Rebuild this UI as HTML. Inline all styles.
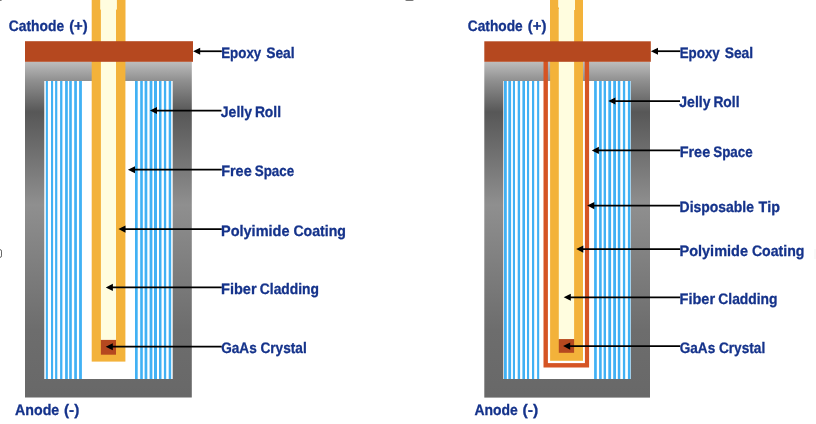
<!DOCTYPE html>
<html><head><meta charset="utf-8"><style>
html,body{margin:0;padding:0;background:#fff;}
body{width:816px;height:424px;overflow:hidden;}
svg{display:block;}
.txt{filter:grayscale(0);}
text{font-family:"Liberation Sans",sans-serif;font-weight:bold;text-rendering:geometricPrecision;font-kerning:none;stroke-width:0.3;stroke:#15338b;fill:#15338b;}
</style></head><body>
<svg width="816" height="424" viewBox="0 0 816 424">
<defs>
<linearGradient id="gray" gradientUnits="objectBoundingBox" x1="0" y1="0" x2="0" y2="1">
<stop offset="0" stop-color="#bdbdbd"/>
<stop offset="0.057" stop-color="#8f8f8f"/>
<stop offset="0.15" stop-color="#575757"/>
<stop offset="0.426" stop-color="#8f8f8f"/>
<stop offset="0.8" stop-color="#6d6d6d"/>
<stop offset="1" stop-color="#686868"/>
</linearGradient>
</defs>
<rect width="816" height="424" fill="#fff"/>

<rect x="91.7" y="0" width="33.8" height="41.5" fill="#f3b23a"/>
<rect x="100.2" y="0" width="16.7" height="9.6" fill="#fffddf"/>
<rect x="100.9" y="9" width="15.1" height="33" fill="#fffddf"/>
<rect x="25" y="61.7" width="166.8" height="335.8" fill="url(#gray)"/>
<rect x="44.3" y="81" width="128.4" height="298" fill="#fff"/>
<rect x="45.8" y="81" width="2.1" height="298" fill="#41b1f4"/>
<rect x="51" y="81" width="2.1" height="298" fill="#41b1f4"/>
<rect x="55.1" y="81" width="2.2" height="298" fill="#41b1f4"/>
<rect x="60.1" y="81" width="2.3" height="298" fill="#41b1f4"/>
<rect x="65.1" y="81" width="2.7" height="298" fill="#41b1f4"/>
<rect x="69.2" y="81" width="2.6" height="298" fill="#41b1f4"/>
<rect x="74.2" y="81" width="2.7" height="298" fill="#41b1f4"/>
<rect x="79.1" y="81" width="2.8" height="298" fill="#41b1f4"/>
<rect x="135" y="81" width="2.7" height="298" fill="#41b1f4"/>
<rect x="140.2" y="81" width="2.6" height="298" fill="#41b1f4"/>
<rect x="144.6" y="81" width="2.7" height="298" fill="#41b1f4"/>
<rect x="149.6" y="81" width="2.8" height="298" fill="#41b1f4"/>
<rect x="154" y="81" width="3" height="298" fill="#41b1f4"/>
<rect x="159" y="81" width="2.5" height="298" fill="#41b1f4"/>
<rect x="163.9" y="81" width="2.3" height="298" fill="#41b1f4"/>
<rect x="168.7" y="81" width="2.5" height="298" fill="#41b1f4"/>
<rect x="91.7" y="41" width="33.7" height="320.6" fill="#f3b23a"/>
<rect x="100.9" y="41" width="15.1" height="299" fill="#fffddf"/>
<rect x="100.9" y="339.9" width="15.1" height="14.8" fill="#b5481f"/>
<rect x="25" y="41.2" width="168" height="20.6" fill="#b5481f"/>
<rect x="550" y="0" width="33" height="41.5" fill="#f3b23a"/>
<rect x="558.2" y="0" width="1" height="7.5" fill="#fffddf"/>
<rect x="559" y="0" width="16" height="10" fill="#fffddf"/>
<rect x="558.7" y="9" width="15.4" height="33" fill="#fffddf"/>
<rect x="484.3" y="61.8" width="165.7" height="335.8" fill="url(#gray)"/>
<rect x="503.3" y="81" width="127.5" height="298" fill="#fff"/>
<rect x="504" y="81" width="2.8" height="298" fill="#41b1f4"/>
<rect x="508.3" y="81" width="2.8" height="298" fill="#41b1f4"/>
<rect x="512.9" y="81" width="2.1" height="298" fill="#41b1f4"/>
<rect x="517.7" y="81" width="2.4" height="298" fill="#41b1f4"/>
<rect x="522.4" y="81" width="2.6" height="298" fill="#41b1f4"/>
<rect x="527" y="81" width="2.1" height="298" fill="#41b1f4"/>
<rect x="532" y="81" width="2.2" height="298" fill="#41b1f4"/>
<rect x="537.1" y="81" width="2.1" height="298" fill="#41b1f4"/>
<rect x="594.1" y="81" width="2.7" height="298" fill="#41b1f4"/>
<rect x="599.1" y="81" width="2.6" height="298" fill="#41b1f4"/>
<rect x="603.6" y="81" width="2.4" height="298" fill="#41b1f4"/>
<rect x="608.3" y="81" width="2.8" height="298" fill="#41b1f4"/>
<rect x="613.2" y="81" width="2.8" height="298" fill="#41b1f4"/>
<rect x="617.8" y="81" width="2.5" height="298" fill="#41b1f4"/>
<rect x="622.9" y="81" width="2.3" height="298" fill="#41b1f4"/>
<rect x="627.9" y="81" width="2.5" height="298" fill="#41b1f4"/>
<path d="M545.7 50 V365.2 H586.9 V50" fill="none" stroke="#d55424" stroke-width="4.4"/>
<rect x="548" y="81" width="36.7" height="282.1" fill="#fff"/>
<rect x="550.1" y="41" width="32.9" height="319.8" fill="#f3b23a"/>
<rect x="558.8" y="41" width="15.3" height="298.5" fill="#fffddf"/>
<rect x="558.8" y="339.1" width="15.3" height="13.7" fill="#b5481f"/>
<rect x="484.3" y="41.3" width="166.5" height="20.5" fill="#b5481f"/>
<line x1="198.1" y1="51.25" x2="221.8" y2="51.25" stroke="#000" stroke-width="1.75"/><path d="M193.1 51.25 L200.2 47.7 L200.2 54.8 Z" fill="#000"/>
<line x1="154.9" y1="110.5" x2="221.5" y2="110.5" stroke="#000" stroke-width="1.75"/><path d="M149.9 110.5 L157.0 106.95 L157.0 114.05 Z" fill="#000"/>
<line x1="132.9" y1="169.7" x2="221.8" y2="169.7" stroke="#000" stroke-width="1.75"/><path d="M127.9 169.7 L135.0 166.14999999999998 L135.0 173.25 Z" fill="#000"/>
<line x1="123.4" y1="229.1" x2="221.8" y2="229.1" stroke="#000" stroke-width="1.75"/><path d="M118.4 229.1 L125.5 225.54999999999998 L125.5 232.65 Z" fill="#000"/>
<line x1="110.8" y1="287.4" x2="221.8" y2="287.4" stroke="#000" stroke-width="1.75"/><path d="M105.8 287.4 L112.89999999999999 283.84999999999997 L112.89999999999999 290.95 Z" fill="#000"/>
<line x1="110.7" y1="346.7" x2="221.8" y2="346.7" stroke="#000" stroke-width="1.75"/><path d="M105.7 346.7 L112.8 343.15 L112.8 350.25 Z" fill="#000"/>
<line x1="655.9" y1="51.2" x2="680.3" y2="51.2" stroke="#000" stroke-width="1.75"/><path d="M650.9 51.2 L658.0 47.650000000000006 L658.0 54.75 Z" fill="#000"/>
<line x1="613.3" y1="101.0" x2="680.0" y2="101.0" stroke="#000" stroke-width="1.75"/><path d="M608.3 101.0 L615.4 97.45 L615.4 104.55 Z" fill="#000"/>
<line x1="596.8" y1="150.4" x2="680.3" y2="150.4" stroke="#000" stroke-width="1.75"/><path d="M591.8 150.4 L598.9 146.85 L598.9 153.95000000000002 Z" fill="#000"/>
<line x1="592.2" y1="205.6" x2="680.3" y2="205.6" stroke="#000" stroke-width="1.75"/><path d="M587.2 205.6 L594.3000000000001 202.04999999999998 L594.3000000000001 209.15 Z" fill="#000"/>
<line x1="581.2" y1="249.1" x2="680.3" y2="249.1" stroke="#000" stroke-width="1.75"/><path d="M576.2 249.1 L583.3000000000001 245.54999999999998 L583.3000000000001 252.65 Z" fill="#000"/>
<line x1="568.7" y1="297.3" x2="680.3" y2="297.3" stroke="#000" stroke-width="1.75"/><path d="M563.7 297.3 L570.8000000000001 293.75 L570.8000000000001 300.85 Z" fill="#000"/>
<line x1="568.1" y1="346.1" x2="680.3" y2="346.1" stroke="#000" stroke-width="1.75"/><path d="M563.1 346.1 L570.2 342.55 L570.2 349.65000000000003 Z" fill="#000"/>
<g class="txt">
<text x="8.83" y="30.5" font-size="15.2" letter-spacing="0" textLength="55.24" lengthAdjust="spacingAndGlyphs">Cathode</text>
<text x="69.16" y="30.5" font-size="15.2" letter-spacing="0" textLength="18.58" lengthAdjust="spacingAndGlyphs">(+)</text>
<text x="15.05" y="414.6" font-size="15.2" letter-spacing="0" textLength="44.14" lengthAdjust="spacingAndGlyphs">Anode</text>
<text x="63.94" y="414.6" font-size="15.2" letter-spacing="0" textLength="15.33" lengthAdjust="spacingAndGlyphs">(-)</text>
<text x="467.84" y="30.5" font-size="15.2" letter-spacing="0" textLength="54.83" lengthAdjust="spacingAndGlyphs">Cathode</text>
<text x="527.86" y="30.5" font-size="15.2" letter-spacing="0" textLength="18.58" lengthAdjust="spacingAndGlyphs">(+)</text>
<text x="474.55" y="414.6" font-size="15.2" letter-spacing="0" textLength="43.32" lengthAdjust="spacingAndGlyphs">Anode</text>
<text x="522.61" y="414.6" font-size="15.2" letter-spacing="0" textLength="15.77" lengthAdjust="spacingAndGlyphs">(-)</text>
<text x="221.21" y="57.9" font-size="15.2" letter-spacing="0" textLength="40.06" lengthAdjust="spacingAndGlyphs">Epoxy</text>
<text x="266.20" y="57.9" font-size="15.2" letter-spacing="0" textLength="28.48" lengthAdjust="spacingAndGlyphs">Seal</text>
<text x="220.79" y="116.5" font-size="15.2" letter-spacing="0" textLength="31.19" lengthAdjust="spacingAndGlyphs">Jelly</text>
<text x="254.88" y="116.5" font-size="15.2" letter-spacing="0" textLength="26.10" lengthAdjust="spacingAndGlyphs">Roll</text>
<text x="221.13" y="175.6" font-size="15.2" letter-spacing="0" textLength="30.56" lengthAdjust="spacingAndGlyphs">Free</text>
<text x="254.71" y="175.6" font-size="15.2" letter-spacing="0" textLength="39.44" lengthAdjust="spacingAndGlyphs">Space</text>
<text x="221.03" y="235.6" font-size="15.2" letter-spacing="0" textLength="68.46" lengthAdjust="spacingAndGlyphs">Polyimide</text>
<text x="293.42" y="235.6" font-size="15.2" letter-spacing="0" textLength="52.52" lengthAdjust="spacingAndGlyphs">Coating</text>
<text x="221.03" y="293.6" font-size="15.2" letter-spacing="0" textLength="35.59" lengthAdjust="spacingAndGlyphs">Fiber</text>
<text x="259.83" y="293.6" font-size="15.2" letter-spacing="0" textLength="59.19" lengthAdjust="spacingAndGlyphs">Cladding</text>
<text x="221.24" y="352.8" font-size="15.2" letter-spacing="0" textLength="35.52" lengthAdjust="spacingAndGlyphs">GaAs</text>
<text x="260.44" y="352.8" font-size="15.2" letter-spacing="0" textLength="46.33" lengthAdjust="spacingAndGlyphs">Crystal</text>
<text x="679.71" y="57.6" font-size="15.2" letter-spacing="0" textLength="40.06" lengthAdjust="spacingAndGlyphs">Epoxy</text>
<text x="724.70" y="57.6" font-size="15.2" letter-spacing="0" textLength="28.48" lengthAdjust="spacingAndGlyphs">Seal</text>
<text x="679.29" y="106.6" font-size="15.2" letter-spacing="0" textLength="31.19" lengthAdjust="spacingAndGlyphs">Jelly</text>
<text x="713.38" y="106.6" font-size="15.2" letter-spacing="0" textLength="26.10" lengthAdjust="spacingAndGlyphs">Roll</text>
<text x="679.63" y="156.6" font-size="15.2" letter-spacing="0" textLength="30.56" lengthAdjust="spacingAndGlyphs">Free</text>
<text x="713.21" y="156.6" font-size="15.2" letter-spacing="0" textLength="39.44" lengthAdjust="spacingAndGlyphs">Space</text>
<text x="679.57" y="211.6" font-size="15.2" letter-spacing="0" textLength="74.41" lengthAdjust="spacingAndGlyphs">Disposable</text>
<text x="758.44" y="211.6" font-size="15.2" letter-spacing="0" textLength="21.45" lengthAdjust="spacingAndGlyphs">Tip</text>
<text x="679.53" y="255.6" font-size="15.2" letter-spacing="0" textLength="68.46" lengthAdjust="spacingAndGlyphs">Polyimide</text>
<text x="751.92" y="255.6" font-size="15.2" letter-spacing="0" textLength="52.52" lengthAdjust="spacingAndGlyphs">Coating</text>
<text x="679.53" y="303.6" font-size="15.2" letter-spacing="0" textLength="35.59" lengthAdjust="spacingAndGlyphs">Fiber</text>
<text x="718.33" y="303.6" font-size="15.2" letter-spacing="0" textLength="59.19" lengthAdjust="spacingAndGlyphs">Cladding</text>
<text x="679.74" y="352.6" font-size="15.2" letter-spacing="0" textLength="35.52" lengthAdjust="spacingAndGlyphs">GaAs</text>
<text x="718.94" y="352.6" font-size="15.2" letter-spacing="0" textLength="46.33" lengthAdjust="spacingAndGlyphs">Crystal</text>
</g>
<rect x="814.6" y="249" width="0.8" height="10" fill="#f0f0f0"/>
<rect x="-4" y="249.6" width="5.5" height="7.8" rx="1.5" fill="none" stroke="#666" stroke-width="1"/>
<rect x="405.2" y="-3" width="8.6" height="4" rx="1.5" fill="#777"/>
<rect x="-3" y="-3" width="5" height="4" rx="1.5" fill="#777"/>
</svg>
</body></html>
